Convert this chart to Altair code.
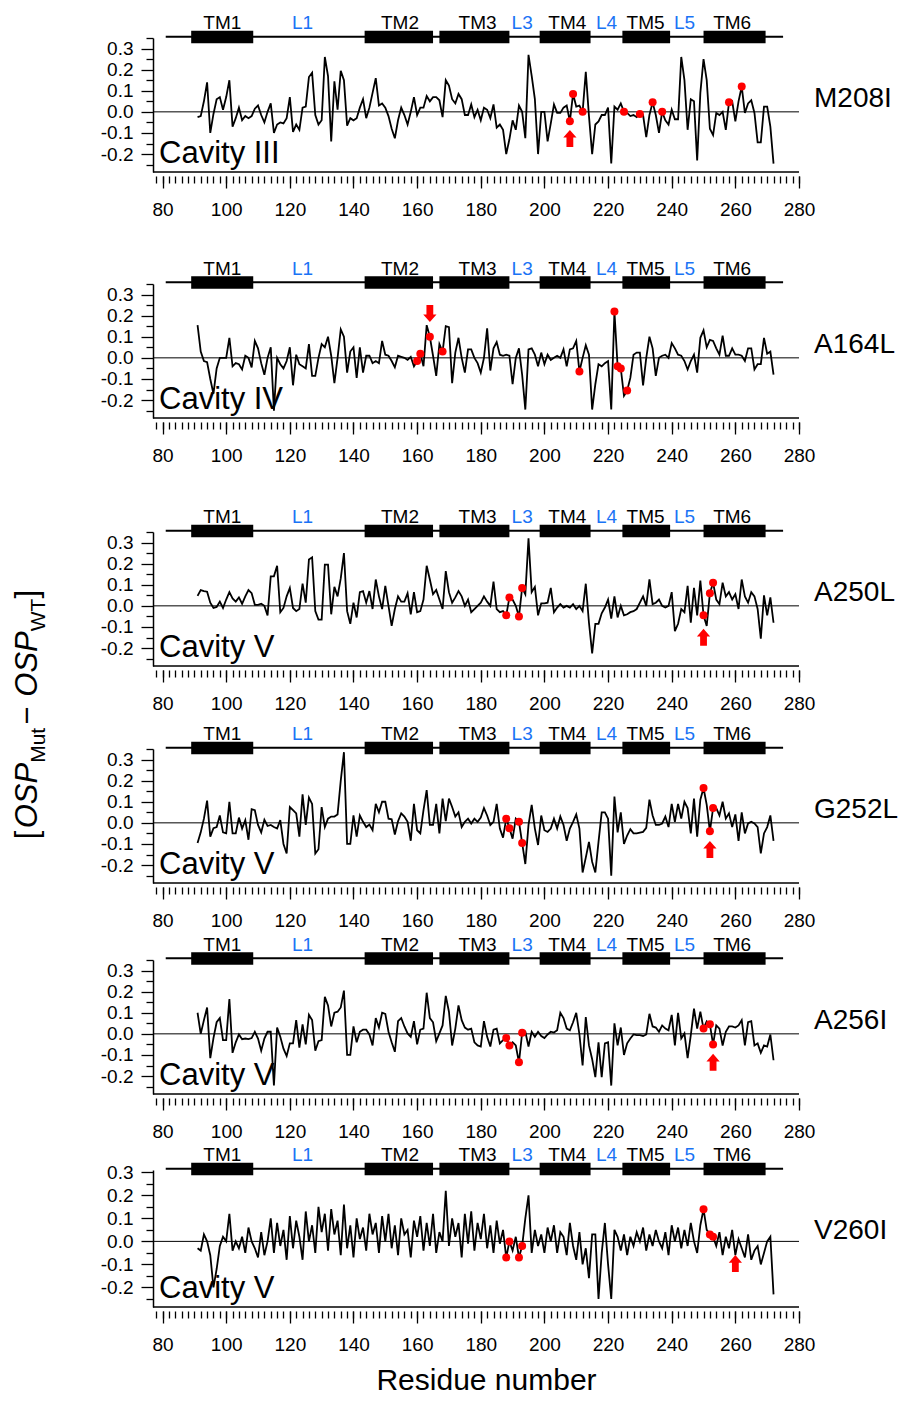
import altair as alt
import pandas as pd

# ---------------- data ----------------
RESIDUES = list(range(91, 273))

M208I = [
    -0.025, -0.02, 0.05, 0.14, -0.1, -0.01, 0.06, 0.07, 0.01, 0.07,
    0.15, -0.07, -0.03, 0.02, -0.04, -0.02, -0.03, -0.02, 0.015, 0.03,
    -0.015, -0.05, 0.0, 0.04, -0.1, -0.06, -0.05, -0.055, -0.03, 0.07,
    -0.095, -0.06, -0.085, 0.02, 0.025, 0.165, 0.185, -0.015, -0.06, -0.04,
    0.26, 0.17, -0.14, 0.145, 0.01, 0.195, 0.15, -0.065, -0.03, -0.04,
    -0.03, 0.02, 0.06, -0.03, 0.02, 0.09, 0.16, 0.03, 0.04, 0.02,
    -0.02, -0.08, -0.125, -0.04, 0.02, -0.015, -0.06, 0.0, 0.07, -0.015,
    0.02, 0.02, 0.075, 0.05, 0.07, 0.07, 0.055, -0.025, 0.15, 0.125,
    0.06, 0.04, 0.085, 0.06, -0.015, -0.015, 0.035, -0.025, 0.01, -0.04,
    0.02, 0.01, -0.03, 0.035, -0.075, -0.06, -0.085, -0.2, -0.13, -0.04,
    -0.085, 0.03, 0.0, -0.125, 0.27, 0.17, 0.06, -0.2, 0.0, 0.0,
    -0.14, -0.055, 0.035, -0.005, -0.005, 0.02, 0.03, -0.045, 0.085, 0.025,
    0.03, 0.0, 0.19, -0.02, -0.2, -0.06, -0.045, -0.015, -0.015, 0.02,
    -0.245, 0.025, 0.01, 0.04, 0.0, -0.005, -0.02, -0.015, -0.025, -0.01,
    -0.015, -0.12, -0.015, 0.045, -0.015, -0.1, 0.0, -0.04, -0.06, 0.01,
    -0.035, -0.035, 0.26, 0.15, -0.085, 0.06, 0.05, -0.23, 0.09, 0.25,
    0.15, -0.08, -0.11, -0.005, -0.015, 0.0, -0.085, 0.045, 0.05, -0.045,
    0.05, 0.12, -0.005, 0.04, 0.055, -0.005, -0.145, -0.145, 0.025, 0.025,
    -0.07, -0.245,
]

A164L = [
    0.155, 0.03, -0.015, -0.02, -0.1, -0.17, -0.05, 0.0, 0.0, 0.0,
    0.095, -0.04, -0.025, -0.03, -0.055, 0.01, 0.0, -0.045, 0.08, 0.045,
    -0.025, -0.08, 0.0, 0.05, -0.25, 0.0, -0.03, -0.05, -0.015, 0.05,
    -0.13, 0.015, -0.03, -0.04, -0.05, 0.065, -0.085, -0.085, 0.0, 0.065,
    0.05, 0.1, 0.01, -0.12, 0.0, 0.135, 0.1, -0.07, 0.03, 0.05,
    -0.095, 0.05, -0.07, 0.01, 0.01, -0.025, -0.015, -0.025, 0.08, 0.015,
    0.01, -0.015, -0.045, 0.01, 0.005, 0.0, -0.01, 0.005, -0.04, -0.015,
    0.02, -0.04, 0.155, 0.1, 0.01, -0.085, 0.065, 0.03, 0.15, 0.145,
    -0.12, 0.025, 0.095, 0.0, -0.07, 0.04, 0.04, 0.0, -0.025, -0.07,
    0.0, 0.14, -0.06, 0.045, 0.075, 0.015, 0.01, 0.015, 0.01, -0.125,
    0.0, 0.045, -0.08, -0.245, 0.04, 0.045, 0.015, -0.04, 0.025, -0.03,
    0.015, -0.01, 0.0, 0.01, 0.0, 0.04, -0.04, 0.04, 0.045, 0.08,
    -0.065, 0.0, 0.06, 0.015, -0.245, -0.125, -0.03, -0.04, -0.025, -0.015,
    -0.245, 0.22, -0.04, -0.05, -0.18, -0.155, -0.095, 0.015, 0.025, 0.025,
    -0.13, 0.0, 0.1, 0.045, -0.085, 0.0, 0.01, 0.015, 0.0, 0.07,
    0.045, 0.015, 0.01, -0.015, -0.055, -0.015, 0.015, -0.07, 0.095, 0.13,
    0.05, 0.085, 0.08, 0.045, 0.015, 0.105, 0.01, 0.01, 0.045, 0.015,
    0.015, 0.01, -0.015, 0.045, 0.045, -0.055, -0.03, -0.03, 0.095, 0.02,
    0.03, -0.08,
]

A250L = [
    0.047, 0.075, 0.07, 0.067, 0.015, -0.01, -0.005, 0.02, -0.01, 0.03,
    0.065, 0.035, 0.02, 0.04, 0.01, 0.045, 0.075, 0.06, 0.005, 0.005,
    0.01, 0.0, -0.045, 0.14, 0.14, 0.19, -0.03, -0.01, 0.045, 0.085,
    -0.01, -0.025, -0.015, 0.105, 0.015, 0.22, 0.23, -0.025, -0.065, -0.065,
    0.195, 0.195, -0.04, 0.09, 0.045, 0.13, 0.25, -0.025, -0.085, 0.015,
    -0.055, 0.065, 0.07, 0.015, 0.07, -0.015, 0.125, 0.045, -0.015, 0.095,
    0.0, -0.095, -0.015, 0.045, 0.02, 0.02, 0.06, -0.04, 0.065, -0.03,
    -0.025, 0.03, 0.19, 0.125, 0.055, 0.075, 0.03, -0.015, 0.165, 0.065,
    0.015, 0.04, 0.07, 0.045, 0.0, 0.03, -0.03, -0.015, 0.0, 0.015,
    0.045, 0.02, 0.0, 0.115, -0.015, -0.03, -0.025, -0.045, 0.04, 0.03,
    0.0, -0.05, 0.085, 0.055, 0.32, 0.065, 0.09, -0.045, 0.012, 0.012,
    0.015, 0.085, -0.03, -0.008, 0.008, -0.008, 0.0, -0.008, 0.008, -0.015,
    0.0, -0.025, 0.105, -0.08, -0.225, -0.085, -0.085, -0.035, -0.008, 0.03,
    -0.06, 0.045, -0.055, 0.0, -0.045, -0.04, -0.03, -0.025, -0.015, 0.015,
    0.045, 0.0, 0.125, 0.008, 0.015, 0.03, 0.0, -0.008, 0.0, 0.065,
    -0.12, -0.085, -0.015, -0.03, 0.095, -0.08, 0.085, -0.045, 0.12, -0.045,
    -0.095, 0.06, 0.11, 0.03, 0.008, 0.11, 0.045, 0.065, 0.03, 0.055,
    -0.015, 0.125, 0.045, 0.015, 0.065, 0.045, -0.015, -0.155, 0.05, -0.045,
    0.04, -0.08,
]

G252L = [
    -0.095, -0.045, 0.02, 0.105, -0.065, -0.025, -0.02, 0.035, -0.045, -0.05,
    0.1, -0.05, -0.05, 0.025, -0.027, 0.013, -0.08, 0.065, 0.06, -0.01,
    -0.045, 0.015, -0.015, -0.01, -0.02, -0.027, 0.013, -0.1, -0.145, 0.075,
    0.06, 0.045, -0.065, 0.135, -0.01, 0.12, 0.09, -0.145, -0.125, 0.075,
    -0.02, 0.02, 0.03, 0.03, 0.04, 0.2, 0.335, -0.1, -0.1, 0.035,
    -0.065, 0.035, 0.005, -0.02, -0.008, -0.035, 0.09, 0.05, 0.1, 0.1,
    0.02, 0.017, -0.055, 0.008, 0.045, 0.03, 0.005, -0.085, 0.09, -0.035,
    -0.05, 0.06, 0.155, -0.01, -0.01, 0.09, -0.05, 0.115, 0.008, 0.115,
    0.075, 0.03, 0.05, -0.02, 0.005, 0.02, -0.003, 0.02, 0.005, 0.025,
    0.07, 0.035, -0.01, 0.005, 0.09, -0.027, -0.07, 0.02, -0.025, -0.075,
    0.02, 0.005, -0.095, -0.195, -0.01, 0.085, -0.027, -0.105, 0.035, -0.035,
    -0.043, -0.027, 0.02, -0.027, 0.03, -0.01, -0.085, -0.027, 0.005, 0.04,
    -0.027, -0.235, -0.165, -0.09, -0.185, -0.235, -0.09, 0.05, 0.05, 0.02,
    -0.25, 0.125, -0.045, 0.05, -0.1, -0.06, -0.03, -0.05, -0.05, -0.046,
    -0.043, -0.024, 0.11, 0.035, -0.01, -0.01, -0.003, 0.03, -0.02, 0.09,
    0.005, 0.09, 0.02, 0.1, 0.07, -0.05, 0.115, -0.065, 0.11, 0.165,
    0.085, -0.04, 0.07, 0.07, 0.035, 0.1, 0.02, 0.045, -0.02, 0.04,
    -0.085, 0.05, -0.05, -0.003, 0.005, -0.003, -0.02, -0.145, -0.05, -0.02,
    0.035, -0.085,
]

A256I = [
    0.1, 0.0, 0.065, 0.125, -0.115, -0.02, 0.055, 0.075, -0.03, -0.03,
    0.165, -0.09, -0.04, -0.003, -0.025, -0.022, -0.025, -0.02, 0.01, -0.022,
    -0.08, -0.022, 0.01, 0.01, -0.245, 0.03, -0.014, -0.07, -0.105, -0.045,
    -0.045, 0.065, -0.065, 0.045, -0.05, 0.09, 0.065, -0.08, -0.035, -0.03,
    0.175, 0.135, 0.035, 0.1, 0.105, 0.125, 0.205, -0.1, -0.1, 0.035,
    -0.04, 0.01, 0.02, 0.02, -0.003, -0.055, 0.075, 0.03, 0.1, 0.095,
    0.01, -0.04, -0.085, 0.06, 0.075, 0.035, 0.002, -0.014, 0.06, -0.05,
    0.02, 0.025, 0.195, 0.075, 0.055, -0.035, 0.002, 0.04, 0.18, 0.105,
    -0.055, 0.025, 0.135, 0.065, 0.03, 0.02, 0.025, -0.04, -0.055, -0.06,
    0.06, -0.014, -0.06, 0.02, 0.025, -0.045, -0.03, -0.02, -0.055, -0.04,
    -0.055, -0.135, 0.005, 0.01, -0.06, 0.01, -0.014, 0.01, -0.01, -0.02,
    -0.003, 0.01, 0.006, 0.017, 0.1, 0.075, 0.025, 0.017, 0.055, 0.1,
    -0.003, -0.15, 0.08, -0.055, -0.12, -0.205, -0.04, -0.205, -0.045, -0.04,
    -0.245, 0.05, -0.055, 0.03, -0.1, -0.045, -0.022, -0.003, -0.006, -0.006,
    -0.01, -0.003, 0.095, 0.035, 0.03, 0.01, 0.04, 0.025, 0.017, 0.09,
    -0.055, 0.1, -0.022, 0.002, -0.115, -0.006, 0.12, 0.025, 0.105, 0.025,
    0.06, 0.045, -0.05, 0.04, 0.025, -0.055, 0.01, 0.035, 0.035, 0.03,
    0.04, 0.065, -0.055, 0.055, 0.06, -0.055, -0.045, -0.09, -0.055, -0.06,
    -0.003, -0.125,
]

V260I = [
    -0.03, -0.04, 0.03, 0.0, -0.06, -0.2, -0.12, -0.02, 0.02, 0.0,
    0.12, -0.04, 0.0, -0.03, 0.02, -0.05, 0.06, 0.0, -0.03, -0.07,
    0.04, -0.06, 0.0, 0.1, -0.05, 0.08, -0.02, 0.05, -0.08, 0.11,
    -0.03, 0.09, 0.02, -0.08, 0.13, 0.0, 0.07, -0.05, 0.15, 0.04,
    0.12, -0.04, 0.14, 0.03, 0.09, -0.06, 0.16, -0.03, 0.07, -0.07,
    0.1, 0.01, 0.06, -0.04, 0.12, 0.03, 0.08, -0.05, 0.11, 0.0,
    0.12, -0.03, 0.07, -0.06, 0.1, 0.03, 0.05, -0.07, 0.09, 0.02,
    0.11, -0.04, 0.08, -0.02, 0.12, -0.05, 0.04, 0.0, 0.22, -0.02,
    0.1, 0.02, 0.08, -0.07, 0.12, -0.01, 0.13, -0.04, 0.08, 0.01,
    0.12, -0.03, 0.07, -0.05, 0.09, -0.01, 0.05, -0.07, 0.0, -0.04,
    0.02, -0.07, -0.02, 0.1, 0.2, -0.05, 0.05, -0.02, 0.03, -0.05,
    0.06, 0.0, 0.07, -0.05, 0.04, 0.02, -0.06, 0.08, -0.02, -0.08,
    0.04, -0.1, -0.03, -0.16, 0.03, 0.03, -0.25, -0.05, 0.08, -0.1,
    -0.25, 0.05, 0.02, -0.04, 0.03, -0.06, 0.02, -0.02, 0.04, 0.0,
    0.06, -0.04, 0.03, -0.02, 0.05, 0.0, -0.03, 0.04, -0.06, 0.07,
    0.0, 0.06, -0.03, 0.05, -0.02, 0.08, 0.0, -0.05, 0.07, 0.14,
    0.05, 0.03, 0.02, -0.02, 0.04, -0.06, 0.02, -0.03, 0.05, -0.06,
    0.01, -0.03, -0.07, 0.03, -0.08, -0.04, -0.02, -0.1, -0.05, 0.0,
    0.02, -0.23,
]

MUTANTS = ["M208I", "A164L", "A250L", "G252L", "A256I", "V260I"]
CAVITIES = ["Cavity III", "Cavity IV", "Cavity V", "Cavity V", "Cavity V", "Cavity V"]
SERIES = [M208I, A164L, A250L, G252L, A256I, V260I]
RED_RESIDUES = [
    [208, 209, 212, 225, 230, 234, 237, 258, 262],
    [160, 161, 164, 168, 211, 222, 223, 224, 226],
    [188, 189, 192, 193, 250, 252, 253],
    [188, 189, 192, 193, 250, 252, 253],
    [188, 189, 192, 193, 250, 252, 253],
    [188, 189, 192, 193, 250, 252, 253],
]
ARROW_RESIDUE = [208, 164, 250, 252, 253, 260]
ARROW_VALUE = [-0.126, 0.21, -0.149, -0.126, -0.135, -0.096]
ARROW_DIR = ["up", "down", "up", "up", "up", "up"]

# topology
TOPO_SPAN = [81, 275]
TM_START = [89, 143.5, 167, 198.5, 224.5, 250]
TM_END = [108.5, 165, 189, 214.5, 239.5, 269.5]
SEG_LABELS = ["TM1", "L1", "TM2", "TM3", "L3", "TM4", "L4", "TM5", "L5", "TM6"]
SEG_POS = [98.8, 124, 154.6, 179, 193, 207.2, 219.5, 231.8, 244, 259]

X_MAJOR = [80, 100, 120, 140, 160, 180, 200, 220, 240, 260, 280]
X_MINOR = list(range(78, 281, 2))
Y_MAJOR = [-0.2, -0.1, 0.0, 0.1, 0.2, 0.3]
Y_MINOR = [-0.25, -0.15, -0.05, 0.05, 0.15, 0.25, 0.35]

# ---------------- style / layout ----------------
FONT = "Liberation Sans"
RED = "#ff0000"
BLUE = "#1a73f5"
W = 646
XDOM = [77, 280]
DOMS = [[-0.285, 0.35]] * 5 + [[-0.285, 0.31]]
HS = [134, 134, 134, 134, 134, 137]
TOPO_H = [25, 111.5, 114, 83, 76.5, 76]

UP = "M0,-1L0.78,-0.1L0.4,-0.1L0.4,1L-0.4,1L-0.4,-0.1L-0.78,-0.1Z"
DOWN = "M0,1L0.78,0.1L0.4,0.1L0.4,-1L-0.4,-1L-0.4,0.1L-0.78,0.1Z"

# rotated y title pieces: text, size, style, y (px from top of panel 3), x (px from plot left)
TITLE_PIECES = [
    ("[", 31, "normal", 307.3, -116),
    ("OSP", 31, "italic", 296.3, -116),
    ("Mut", 21, "normal", 230.8, -108),
    ("\u2212", 31, "normal", 192.8, -116),
    ("OSP", 31, "italic", 164.7, -116),
    ("WT", 21, "normal", 99.2, -108),
    ("]", 31, "normal", 66.5, -116),
]


def xscale():
    return alt.Scale(domain=XDOM, nice=False, zero=False)


def topo_chart(H):
    line_df = pd.DataFrame({"start": [TOPO_SPAN[0]], "end": [TOPO_SPAN[1]]})
    tm_df = pd.DataFrame({"start": TM_START, "end": TM_END})
    lab_df = pd.DataFrame({
        "name": SEG_LABELS,
        "pos": SEG_POS,
        "kind": ["L" if s.startswith("L") else "TM" for s in SEG_LABELS],
    })
    line = alt.Chart(line_df).mark_rule(color="black", strokeWidth=2).encode(
        x=alt.X("start:Q", scale=xscale(), axis=None),
        x2="end:Q",
        y=alt.value(H - 1.3),
    )
    boxes = alt.Chart(tm_df).mark_rect(color="black").encode(
        x=alt.X("start:Q", scale=xscale(), axis=None),
        x2="end:Q",
        y=alt.value(H - 7.3),
        y2=alt.value(H + 5.3),
    )
    labels = alt.Chart(lab_df).mark_text(
        font=FONT, fontSize=19, baseline="middle", align="center"
    ).encode(
        x=alt.X("pos:Q", scale=xscale(), axis=None),
        y=alt.value(H - 15),
        text="name:N",
        color=alt.Color(
            "kind:N",
            scale=alt.Scale(domain=["TM", "L"], range=["black", BLUE]),
            legend=None,
        ),
    )
    return alt.layer(line, boxes, labels).properties(width=W, height=H)


def main_chart(i):
    vals = SERIES[i]
    dom = DOMS[i]
    h = HS[i]
    last = i == len(SERIES) - 1
    df = pd.DataFrame({"residue": RESIDUES, "osp": vals})
    red_df = df[df["residue"].isin(RED_RESIDUES[i])]
    arrow_df = pd.DataFrame({"residue": [ARROW_RESIDUE[i]], "osp": [ARROW_VALUE[i]]})
    ys = alt.Scale(domain=dom, nice=False, zero=False)

    x_major_kw = dict(
        values=X_MAJOR, orient="bottom", offset=4, domain=False,
        tickSize=12, tickWidth=1.3, tickColor="black",
        labelFont=FONT, labelFontSize=19, labelColor="black", labelPadding=12,
        labelFlush=False, labelOverlap=False, grid=False,
    )
    if last:
        x_major_kw.update(
            title="Residue number", titleFont=FONT, titleFontSize=30,
            titleFontWeight="normal", titleColor="black",
            titleX=333, titleY=78, titleBaseline="alphabetic",
        )
    x_major = alt.Axis(**x_major_kw)
    x_minor = alt.Axis(
        values=X_MINOR, orient="bottom", offset=4, domain=False,
        tickSize=7, tickWidth=1.3, tickColor="black", labels=False, grid=False,
    )
    y_major = alt.Axis(
        values=Y_MAJOR, orient="left", domain=True, domainColor="black",
        domainWidth=1.5, tickSize=12, tickWidth=1.3, tickColor="black",
        labelFont=FONT, labelFontSize=19, labelColor="black", labelPadding=8,
        labelExpr="replace(format(datum.value, '.1f'), '\u2212', '-')",
        grid=False,
    )
    y_minor = alt.Axis(
        values=[v for v in Y_MINOR if dom[0] <= v <= dom[1] + 1e-9],
        orient="left", domain=False, tickSize=7, tickWidth=1.3,
        tickColor="black", labels=False, grid=False,
    )

    line = alt.Chart(df).mark_line(color="black", strokeWidth=1.8).encode(
        x=alt.X("residue:Q", scale=xscale(), axis=x_major,
                title="Residue number" if last else None),
        y=alt.Y("osp:Q", scale=ys, axis=y_major, title=None),
    )
    points = alt.Chart(red_df).mark_circle(color=RED, size=64, opacity=1).encode(
        x=alt.X("residue:Q", scale=xscale(), axis=x_minor, title=None),
        y=alt.Y("osp:Q", scale=ys, axis=y_minor, title=None),
    )
    arrow = alt.Chart(arrow_df).mark_point(
        shape=UP if ARROW_DIR[i] == "up" else DOWN,
        filled=True, color=RED, opacity=1, size=290, strokeWidth=0,
    ).encode(
        x=alt.X("residue:Q", scale=xscale(), axis=None),
        y=alt.Y("osp:Q", scale=ys, axis=None),
    )
    zero = alt.Chart(pd.DataFrame({"z": [0.0]})).mark_rule(
        color="black", strokeWidth=1
    ).encode(
        y=alt.Y("z:Q", scale=ys, axis=None),
        x=alt.value(0), x2=alt.value(W),
    )
    frame = alt.Chart(pd.DataFrame({"z": [0]})).mark_rule(
        color="black", strokeWidth=1.5
    ).encode(x=alt.value(0), x2=alt.value(W), y=alt.value(h))
    cav = alt.Chart(pd.DataFrame({"t": [CAVITIES[i]]})).mark_text(
        font=FONT, fontSize=31, align="left", baseline="alphabetic", color="black"
    ).encode(x=alt.value(6), y=alt.value(h - 9.5), text="t:N")
    mut = alt.Chart(pd.DataFrame({"t": [MUTANTS[i]]})).mark_text(
        font=FONT, fontSize=28, align="left", baseline="middle", color="black"
    ).encode(x=alt.value(661), y=alt.value(61), text="t:N")

    layers = [zero, frame, line, points, arrow, cav, mut]

    if i == 2:
        for txt, fs, style, yy, xx in TITLE_PIECES:
            layers.append(
                alt.Chart(pd.DataFrame({"t": [txt]})).mark_text(
                    font=FONT, fontSize=fs, fontStyle=style, angle=270,
                    align="left", baseline="alphabetic", color="black",
                ).encode(x=alt.value(xx), y=alt.value(yy), text="t:N")
            )

    return (
        alt.layer(*layers)
        .resolve_axis(x="independent", y="independent")
        .properties(width=W, height=h)
    )


cells = []
for i in range(len(SERIES)):
    cells.append(topo_chart(TOPO_H[i]))
    cells.append(main_chart(i))

chart = (
    alt.vconcat(*cells, spacing=0, bounds="flush")
    .properties(padding={"left": 4, "top": 5, "right": 0, "bottom": 0})
    .configure_view(strokeWidth=0)
)

chart.save("out.html", embed_options={"renderer": "svg", "actions": False})
